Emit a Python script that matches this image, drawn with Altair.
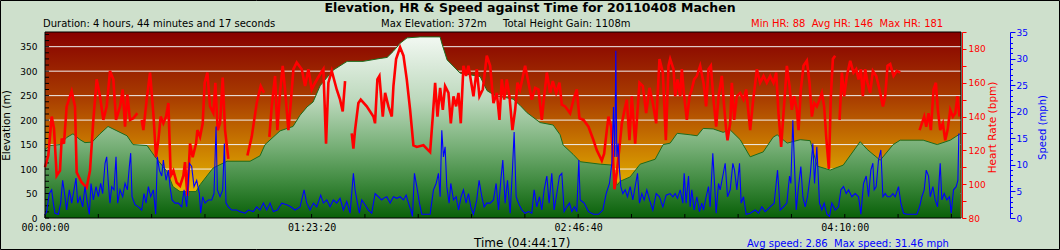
import altair as alt
import pandas as pd

W, H = 916, 186
BG = "#cee0cc"

# ---------------- data (seconds from start) ----------------
elev_t = [0, 94, 281, 413, 525, 657, 750, 882, 1032, 1182,
          1313, 1538, 1651, 1914, 2064, 2289, 2401, 2533, 2833, 2908,
          3152, 3414, 3846, 4033, 4127, 4409, 4652, 4784, 4915, 5028,
          5159, 5403, 5666, 5966, 6285, 6416, 6528, 6660, 6791, 7035,
          7410, 7448, 7542, 7785, 8161, 8292, 8442, 8780, 8911, 9042,
          9286, 9530, 9661, 9718, 9905, 10037, 10412, 10656, 10731, 10787,
          10975, 11162, 11444, 11594, 11725, 11857, 12100, 12232, 12344, 12532,
          12719, 12851, 13038, 13226, 13470, 13657, 13732, 13920, 14164, 14351,
          14483, 14727, 14971, 15289, 15421, 15665, 15908, 16039, 16471, 16734,
          16978, 17165]
elev_m = [140, 148, 150, 165, 172, 160, 154, 155, 172, 187,
          180, 168, 150, 148, 125, 95, 64, 54, 54, 68,
          102, 116, 116, 127, 150, 178, 187, 210, 227, 237,
          270, 302, 320, 320, 326, 328, 340, 357, 368, 370,
          370, 355, 323, 296, 289, 260, 250, 243, 230, 215,
          195, 190, 170, 149, 130, 115, 110, 108, 67, 75,
          84, 110, 120, 150, 153, 173, 170, 168, 183, 182,
          175, 180, 160, 125, 135, 165, 170, 153, 160, 158,
          106, 98, 108, 156, 140, 118, 150, 159, 159, 150,
          159, 172]

hr_t = [0, 62, 125, 169, 219, 281, 313, 356, 406, 500,
        563, 594, 688, 782, 844, 907, 969, 1032, 1094, 1157,
        1219, 1282, 1332, 1407, 1457, 1501, 1545, 1595, 1657, 1732,
        1773, 1814, 1845, 1907, 1970, 2032, 2082, 2126, 2170, 2220,
        2270, 2314, 2358, 2408, 2470, 2533, 2595, 2626, 2670, 2720,
        2770, 2833, 2858, 2908, 2958, 2995, 3045, 3095, 3158, 3195,
        3239, 3283, 3333, 3377, 3439, 3600, 3796, 3877, 3971, 4046,
        4108, 4160, 4208, 4252, 4315, 4358, 4408, 4458, 4502, 4565,
        4609, 4659, 4721, 4815, 4878, 4940, 5003, 5065, 5159, 5221,
        5271, 5315, 5378, 5471, 5534, 5584, 5628, 5690, 5753, 5784,
        5815, 5878, 5922, 6034, 6159, 6190, 6234, 6272, 6335, 6379,
        6441, 6504, 6535, 6585, 6660, 6723, 6785, 6848, 6910, 6973,
        7098, 7223, 7273, 7317, 7361, 7411, 7461, 7504, 7567, 7611,
        7661, 7711, 7755, 7798, 7848, 7898, 7942, 8036, 8098, 8148,
        8211, 8286, 8349, 8411, 8474, 8524, 8567, 8611, 8661, 8711,
        8767, 8818, 8861, 8911, 9005, 9068, 9130, 9193, 9255, 9318,
        9362, 9412, 9474, 9524, 9587, 9649, 9693, 9756, 9849, 9912,
        9974, 10024, 10100, 10193, 10287, 10350, 10443, 10487, 10537, 10568,
        10618, 10650, 10681, 10725, 10775, 10819, 10869, 10912, 10962, 11006,
        11069, 11150, 11213, 11275, 11338, 11400, 11463, 11525, 11588, 11644,
        11694, 11725, 11788, 11819, 11863, 11913, 11944, 11988, 12038, 12088,
        12131, 12175, 12225, 12288, 12350, 12400, 12444, 12488, 12538, 12588,
        12632, 12694, 12738, 12776, 12801, 12851, 12882, 12926, 12976, 13038,
        13101, 13151, 13226, 13276, 13351, 13413, 13476, 13538, 13601, 13663,
        13714, 13757, 13807, 13851, 13914, 13964, 14007, 14051, 14101, 14133,
        14176, 14226, 14289, 14339, 14383, 14426, 14476, 14526, 14570, 14614,
        14652, 14702, 14739, 14777, 14820, 14860, 14902, 14946, 14989, 15039,
        15102, 15164, 15214, 15258, 15302, 15339, 15383, 15427, 15477, 15527,
        15590, 15652, 15715, 15758, 15802, 15852, 15915, 15977, 16040, 16200,
        16403, 16446, 16490, 16528, 16571, 16615, 16665, 16709, 16746, 16790,
        16840, 16884, 16928, 16978, 17028, 17072, 17115, 17153]
hr_bpm = [110, 117, 140, 133, 105, 108, 127, 124, 146, 155,
          146, 107, 101, 98, 108, 138, 162, 152, 138, 146,
          167, 162, 138, 146, 156, 134, 153, 138, 139, 142,
          None, 138, 132, 150, 166, 142, 116, 126, 140, 136,
          140, 148, 105, 108, 101, 99, 105, 113, 93, 124,
          116, 124, 132, 128, 136, 160, 166, 146, 142, 160,
          132, 136, 163, 132, 115, None, 117, 128, 148, 158,
          154, None, 128, 146, 164, 132, 154, 170, 156, 132,
          148, 168, 172, 168, 158, 168, 156, 160, 165, 168,
          124, 160, 167, 156, 150, 143, 161, None, 130, 121,
          132, 148, 150, 146, 140, 136, 162, 164, 140, 154,
          146, 140, 158, 174, 181, 176, 162, 144, 123, 122,
          123, 119, 140, 160, 140, 157, 144, 158, 154, 136,
          152, 146, 154, 136, 170, 164, 170, 152, 168, 152,
          156, 176, 170, 148, 154, 138, 162, 150, 162, 152,
          132, 144, 160, 156, 170, 160, 150, 157, 156, 138,
          152, 166, 154, 161, 154, 160, 147, 146, 142, 150,
          156, 139, 138, 134, 126, 120, 114, 118, 132, 140,
          134, 118, 97, 107, 122, 136, 144, 150, 126, 152,
          124, 160, 158, 142, 157, 148, 136, 174, 166, 126,
          170, 174, 168, 152, 162, 152, 168, 152, 138, 152,
          156, 162, 164, 170, 160, 146, 168, 170, 150, 134,
          152, 164, 146, 132, 126, 136, 160, 138, 152, 154,
          150, 156, 132, 148, 168, 160, 164, 160, 164, 160,
          166, 142, 122, 142, 170, 158, 144, 152, 144, 132,
          156, 170, 173, 160, 140, 148, 146, 150, 154, 146,
          128, 109, 152, 174, 176, None, 138, 166, 152, 164,
          173, 166, 168, 162, 168, 152, 168, 160, 154, 167,
          164, 156, 146, 152, 170, 171, 164, 167, 166, None,
          132, 136, 140, 134, 142, 132, 156, 160, 144, 132,
          136, 126, 132, 144, 140, 142, 152, 140]

spd_t = [0, 31, 81, 125, 156, 188, 250, 294, 331, 375,
         406, 456, 500, 532, 582, 613, 657, 707, 750, 794,
         832, 863, 907, 957, 1001, 1044, 1082, 1126, 1157, 1188,
         1219, 1251, 1294, 1332, 1363, 1407, 1457, 1501, 1545, 1582,
         1607, 1632, 1688, 1751, 1814, 1857, 1895, 1939, 1982, 2032,
         2076, 2107, 2145, 2189, 2220, 2270, 2314, 2345, 2383, 2439,
         2501, 2564, 2608, 2658, 2708, 2751, 2795, 2845, 2895, 2920,
         2958, 3001, 3064, 3127, 3170, 3208, 3233, 3283, 3333, 3364,
         3395, 3439, 3502, 3596, 3658, 3752, 3814, 3908, 3971, 4033,
         4096, 4158, 4221, 4283, 4358, 4440, 4534, 4609, 4690, 4784,
         4859, 4909, 4971, 5034, 5097, 5171, 5221, 5284, 5346, 5409,
         5471, 5534, 5597, 5659, 5722, 5784, 5815, 5859, 5897, 5941,
         6003, 6066, 6128, 6191, 6253, 6316, 6348, 6410, 6473, 6535,
         6598, 6660, 6723, 6773, 6817, 6860, 6892, 6929, 6973, 7023,
         7067, 7129, 7223, 7286, 7336, 7379, 7411, 7442, 7473, 7504,
         7536, 7579, 7611, 7661, 7711, 7755, 7805, 7848, 7898, 7942,
         7986, 8036, 8098, 8142, 8192, 8236, 8286, 8349, 8411, 8461,
         8505, 8549, 8586, 8630, 8674, 8724, 8767, 8799, 8836, 8880,
         8943, 9005, 9068, 9130, 9174, 9224, 9274, 9318, 9362, 9412,
         9455, 9505, 9549, 9599, 9649, 9693, 9737, 9787, 9837, 9881,
         9931, 9974, 10012, 10037, 10112, 10193, 10287, 10381, 10462, 10525,
         10587, 10631, 10662, 10687, 10706, 10725, 10750, 10775, 10800, 10837,
         10881, 10925, 10975, 11025, 11069, 11113, 11150, 11194, 11238, 11288,
         11338, 11400, 11463, 11525, 11588, 11650, 11725, 11775, 11819, 11863,
         11913, 11963, 11988, 12025, 12069, 12100, 12131, 12175, 12225, 12275,
         12319, 12350, 12400, 12444, 12475, 12525, 12557, 12588, 12632, 12663,
         12713, 12757, 12801, 12851, 12901, 12932, 12976, 13026, 13057, 13101,
         13151, 13226, 13320, 13382, 13445, 13507, 13601, 13676, 13739, 13789,
         13851, 13914, 13964, 13989, 14026, 14051, 14089, 14133, 14176, 14214,
         14258, 14301, 14351, 14401, 14433, 14476, 14526, 14570, 14614, 14664,
         14714, 14758, 14820, 14883, 14927, 14977, 15027, 15071, 15133, 15196,
         15258, 15302, 15352, 15402, 15446, 15489, 15527, 15552, 15590, 15633,
         15677, 15715, 15758, 15802, 15852, 15902, 15946, 16008, 16052, 16102,
         16165, 16258, 16352, 16403, 16446, 16490, 16528, 16571, 16603, 16653,
         16696, 16740, 16790, 16821, 16865, 16915, 16965, 16996, 17040, 17090,
         17122, 17140]
spd_mph = [0.6, 1.2, 4.6, 5.3, 2.8, 0.9, 0.7, 2.8, 7.1, 4.0,
           1.5, 5.3, 2.8, 4.6, 7.5, 2.8, 4.0, 2.1, 5.9, 2.8,
           0.7, 6.5, 3.4, 5.9, 4.0, 6.5, 4.6, 10.3, 11.5, 6.5,
           2.8, 5.9, 5.3, 11.5, 2.8, 5.3, 4.0, 6.5, 5.3, 9.7,
           12.2, 4.0, 2.5, 2.1, 1.5, 4.6, 2.8, 5.9, 4.0, 5.3,
           0.7, 11.5, 9.0, 7.9, 10.9, 7.1, 9.0, 5.9, 3.4, 2.8,
           2.8, 2.1, 5.3, 2.1, 10.3, 9.7, 5.9, 7.1, 4.6, 0.9,
           4.0, 2.8, 3.4, 3.4, 4.6, 17.2, 5.3, 4.0, 5.3, 14.0,
           2.8, 2.1, 1.5, 1.5, 1.2, 0.9, 1.5, 1.2, 2.1, 1.5,
           2.8, 1.5, 2.8, 1.2, 1.5, 2.8, 2.5, 2.1, 1.5, 2.1,
           5.3, 2.8, 1.5, 2.8, 2.1, 4.3, 2.8, 3.4, 2.1, 3.4,
           2.8, 3.7, 1.5, 3.1, 0.9, 8.4, 5.3, 2.8, 0.9, 3.4,
           2.5, 1.5, 0.9, 4.6, 4.0, 3.4, 3.7, 4.0, 2.8, 4.0,
           3.7, 4.0, 3.4, 4.3, 2.8, 1.5, 0.3, 8.4, 5.9, 2.8,
           0.7, 0.7, 0.7, 5.3, 6.5, 8.4, 4.0, 16.5, 11.5, 13.4,
           5.9, 2.8, 6.5, 3.4, 4.0, 1.5, 4.0, 5.3, 2.8, 4.6,
           2.1, 0.7, 3.4, 7.1, 4.0, 2.1, 2.8, 2.8, 3.4, 6.5,
           1.5, 7.1, 10.9, 2.8, 7.1, 0.9, 9.0, 16.2, 4.0, 2.8,
           1.5, 0.9, 1.2, 0.9, 5.3, 2.1, 4.0, 1.5, 5.3, 7.9,
           2.8, 8.4, 1.5, 4.6, 7.9, 8.4, 1.2, 2.1, 2.8, 1.2,
           2.1, 1.2, 10.9, 3.4, 2.8, 1.2, 0.7, 0.7, 1.5, 4.6,
           6.5, 10.3, 20.9, 11.5, 31.46, 11.5, 14.0, 9.0, 5.9, 4.6,
           5.3, 4.0, 5.9, 3.4, 5.9, 8.4, 2.8, 4.6, 3.4, 5.3,
           3.4, 1.5, 4.6, 4.0, 2.1, 4.3, 4.6, 4.0, 4.6, 3.7,
           5.3, 2.8, 8.4, 2.8, 7.9, 2.1, 5.3, 1.5, 4.0, 1.2,
           2.8, 1.5, 4.0, 5.9, 2.1, 12.2, 6.5, 0.9, 6.5, 5.3,
           7.9, 10.3, 4.0, 5.3, 10.3, 9.0, 5.3, 10.3, 2.8, 4.0,
           0.7, 0.9, 1.5, 0.9, 2.1, 1.2, 2.1, 2.8, 9.0, 1.5,
           2.1, 2.8, 7.9, 6.5, 18.4, 11.5, 1.5, 5.9, 9.7, 4.0,
           2.1, 4.0, 7.9, 14.0, 6.5, 13.4, 2.8, 1.5, 2.8, 0.7,
           0.3, 2.8, 1.5, 2.1, 5.3, 5.9, 4.6, 5.3, 4.0, 4.6,
           4.0, 0.7, 6.5, 7.9, 4.0, 9.0, 10.3, 5.3, 5.9, 10.9,
           12.8, 4.0, 4.6, 4.0, 4.0, 4.6, 4.0, 5.9, 2.8, 0.9,
           0.7, 0.7, 0.7, 2.1, 4.0, 5.3, 9.0, 7.9, 4.0, 5.9,
           3.4, 2.1, 10.3, 3.4, 4.6, 3.4, 4.0, 0.9, 5.3, 5.9,
           7.1, 15.9]

# axis ticks / labels
elev_labels = [0, 50, 100, 150, 200, 250, 300, 350]
elev_grid = [50, 100, 150, 200, 250, 300, 350]
elev_minor = [0, 12.5, 25, 37.5, 50, 62.5, 75, 87.5, 100, 112.5, 125, 137.5,
              150, 162.5, 175, 187.5, 200, 212.5, 225, 237.5, 250, 262.5, 275,
              287.5, 300, 312.5, 325, 337.5, 350, 362.5, 375]
hr_ticks = [80, 90, 100, 110, 120, 130, 140, 150, 160, 170, 180, 190]
spd_ticks = list(range(0, 36))
time_ticks = [0, 1000, 2000, 3000, 4000, 5000, 6000, 7000, 8000, 9000,
              10000, 11000, 12000, 13000, 14000, 15000, 16000, 17000]
time_labels = [0, 5000, 10000, 15000]

title_text = "Elevation, HR & Speed against Time for 20110408 Machen"
duration_text = "Duration: 4 hours, 44 minutes and 17 seconds"
max_elev_text = "Max Elevation: 372m"
gain_text = "Total Height Gain: 1108m"
hr_stats_text = "Min HR: 88\u00a0\u00a0Avg HR: 146\u00a0\u00a0Max HR: 181"
time_title = "Time (04:44:17)"
speed_stats_text = "Avg speed: 2.86\u00a0\u00a0Max speed: 31.46 mph"

# ---------------- frames ----------------
elev_df = pd.DataFrame({"t": elev_t, "e": elev_m})
hr_df = pd.DataFrame({"t": hr_t, "hr": hr_bpm})
spd_df = pd.DataFrame({"t": spd_t, "s": spd_mph})
one = pd.DataFrame({"k": [0]})

FONT = "DejaVu Sans"

x_scale = alt.Scale(domain=[0, 17180], nice=False, zero=False)
es = alt.Scale(domain=[0, 380], nice=False, zero=True)
hs = alt.Scale(domain=[80, 190], nice=False, zero=False)
ss = alt.Scale(domain=[0, 35], nice=False, zero=True)

x_axis = alt.Axis(values=time_labels,
                  labelExpr="utcFormat(datum.value * 1000, '%H:%M:%S')",
                  ticks=False, domain=False, grid=False, labelFlush=False,
                  labelFont="DejaVu Sans Mono", labelFontSize=10,
                  labelColor="black", labelPadding=4, title="")

elev_axis = alt.Axis(orient="left", values=elev_labels, ticks=False, domain=False,
                     grid=False, labelFont=FONT, labelFontSize=9, labelColor="black",
                     labelPadding=8, title="Elevation (m)", titleFont=FONT,
                     titleFontSize=10.5, titleFontWeight="normal", titleColor="black",
                     titleAngle=270, titleX=-39, titleY=93, titleAlign="center",
                     titleBaseline="middle")

hr_axis = alt.Axis(orient="right", offset=1, values=hr_ticks,
                   labelExpr="datum.value % 20 == 0 ? datum.label : ''",
                   labelOverlap=False, tickSize=4, tickColor="red", domainColor="red",
                   labelColor="red", labelFont=FONT, labelFontSize=9, labelPadding=2,
                   grid=False, title="Heart Rate (bpm)", titleColor="red", titleFont=FONT,
                   titleFontSize=10.5, titleFontWeight="normal", titleAngle=270,
                   titleX=30, titleY=95, titleAlign="center", titleBaseline="middle")

spd_axis = alt.Axis(orient="right", offset=49, values=spd_ticks,
                    labelExpr="datum.value % 5 == 0 ? datum.label : ''",
                    labelOverlap=False,
                    tickSize={"condition": {"test": "datum.value % 5 === 0", "value": 5},
                              "value": 2.5},
                    tickColor="blue", domainColor="blue", labelColor="blue",
                    labelFont=FONT, labelFontSize=9, labelPadding=1, grid=False,
                    title="Speed (mph)", titleColor="blue", titleFont=FONT,
                    titleFontSize=10, titleFontWeight="normal", titleAngle=270,
                    titleX=32, titleY=95, titleAlign="center", titleBaseline="middle")

bg_grad = alt.Gradient(gradient="linear", x1=0, x2=0, y1=0, y2=1, stops=[
    alt.GradientStop(offset=0, color="#870000"),
    alt.GradientStop(offset=0.35, color="#a83c00"),
    alt.GradientStop(offset=0.6, color="#c87800"),
    alt.GradientStop(offset=0.85, color="#e4b400"),
    alt.GradientStop(offset=1, color="#ecc400")])

area_grad = alt.Gradient(gradient="linear", x1=0, x2=0, y1=0, y2=1, stops=[
    alt.GradientStop(offset=0, color="#f2f8f2"),
    alt.GradientStop(offset=0.35, color="#bcd8bc"),
    alt.GradientStop(offset=0.6, color="#78b078"),
    alt.GradientStop(offset=0.8, color="#3f8a3f"),
    alt.GradientStop(offset=1, color="#086008")])

X = alt.X("t:Q", scale=x_scale, axis=x_axis)

bg = alt.Chart(one).mark_rect(color=bg_grad, opacity=1).encode(
    x=alt.value(0), x2=alt.value(W), y=alt.value(0), y2=alt.value(H))

grid = alt.Chart(pd.DataFrame({"g": elev_grid})).mark_rule(
    color="#f0f0f0", strokeWidth=1).encode(
    y=alt.Y("g:Q", scale=es, axis=None), x=alt.value(0), x2=alt.value(W))

area = alt.Chart(elev_df).mark_area(
    color=area_grad, opacity=1, fillOpacity=1,
    line={"color": "#1d6b1d", "strokeWidth": 1}).encode(
    x=X, y=alt.Y("e:Q", scale=es, axis=elev_axis))

elev_ticks = alt.Chart(pd.DataFrame({"v": elev_minor})).mark_rule(
    color="black", strokeWidth=1).encode(
    y=alt.Y("v:Q", scale=es, axis=None), x=alt.value(0), x2=alt.value(4))

x_ticks = alt.Chart(pd.DataFrame({"t": time_ticks})).mark_rule(
    color="black", strokeWidth=1).encode(
    x=X, y=alt.value(H - 4), y2=alt.value(H))

hr_line = alt.Chart(hr_df).mark_line(
    color="#ff0000", strokeWidth=2.6, invalid="break-paths-filter-domains").encode(
    x=X, y=alt.Y("hr:Q", scale=hs, axis=hr_axis))

spd_line = alt.Chart(spd_df).mark_line(color="#0000ff", strokeWidth=1.1).encode(
    x=X, y=alt.Y("s:Q", scale=ss, axis=spd_axis))

frame = alt.Chart(one).mark_rect(fillOpacity=0, stroke="black", strokeWidth=1).encode(
    x=alt.value(0), x2=alt.value(W), y=alt.value(0), y2=alt.value(H))

border = alt.Chart(one).mark_rect(fillOpacity=0, stroke="black", strokeWidth=1).encode(
    x=alt.value(-44.5), x2=alt.value(1014.5), y=alt.value(-31.5), y2=alt.value(217.5))


def label(txt, x, y, size=10, color="black", weight="normal", align="left"):
    return alt.Chart(one).mark_text(
        text=txt, font=FONT, fontSize=size, color=color, fontWeight=weight,
        align=align, baseline="alphabetic").encode(x=alt.value(x), y=alt.value(y))


texts = [
    label(title_text, 485, -19.7, size=12.5, weight="bold", align="center"),
    label(duration_text, -2, -5),
    label(max_elev_text, 336, -5),
    label(gain_text, 458, -5),
    label(hr_stats_text, 706, -5, color="#ff0000"),
    label(time_title, 429, 214.5, size=12),
    label(speed_stats_text, 702, 214.5, color="#0000ff"),
]

chart = alt.layer(bg, grid, area, elev_ticks, x_ticks, hr_line, spd_line, frame,
                  *texts, border).resolve_scale(y="independent").properties(
    width=W, height=H,
    padding={"left": 45, "top": 32, "right": 99, "bottom": 32},
    autosize=alt.AutoSizeParams(type="none"),
).configure(background=BG).configure_view(strokeWidth=0)

chart.save("out.html", embed_options={"renderer": "svg", "actions": False})
